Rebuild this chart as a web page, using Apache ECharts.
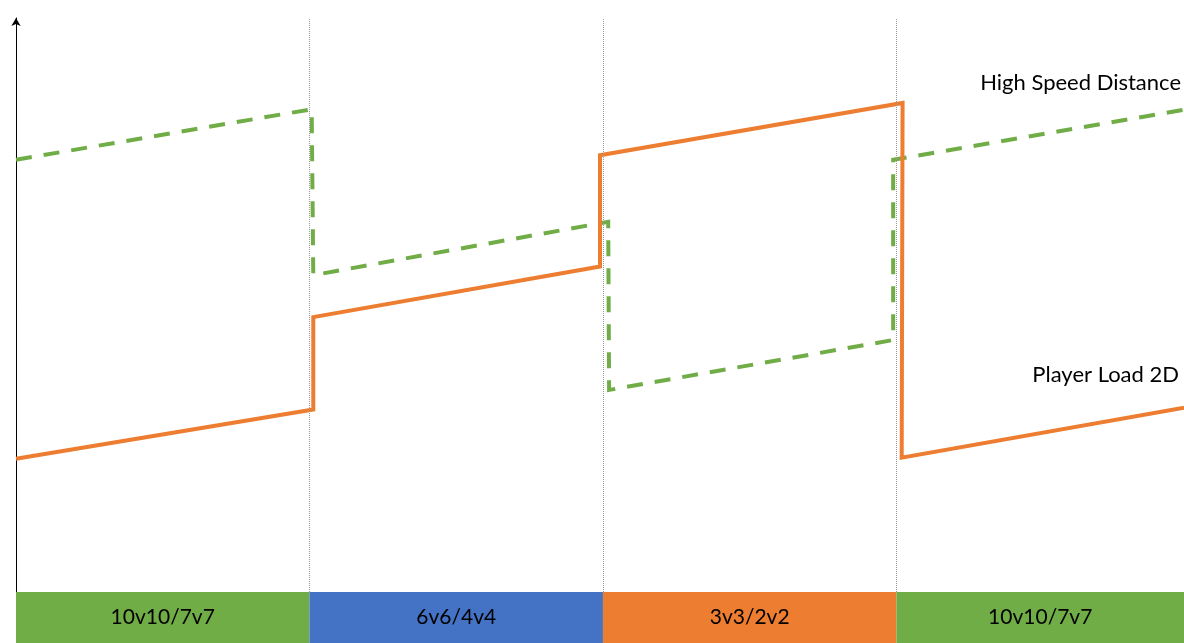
<!DOCTYPE html>
<html>
<head>
<meta charset="utf-8">
<script src="https://cdn.jsdelivr.net/npm/echarts@6/dist/echarts.min.js"></script>
<style>
html,body{margin:0;padding:0;background:#fff;}
#chart{width:1184px;height:643px;}
</style>
</head>
<body>
<div id="chart"></div>
<script>
// Phase categories (bottom band) and their boundaries in phase units
var phases = ['10v10/7v7', '6v6/4v4', '3v3/2v2', '10v10/7v7'];
var phaseStarts = [0, 1, 2, 3];
var phaseColors = ['#70AD47', '#4472C4', '#ED7D31', '#70AD47'];
var xMax = 3.98; // last phase is cut off at the right edge

// High Speed Distance (x in phase units, y relative 0-100)
var hsdX = [0, 1.0075, 1.013, 1.013, 2.018, 2.021, 2.021, 2.989, 2.989, 3.98];
var hsdY = [75.3, 84.1, 84.1, 55.2, 64.5, 64.5, 35.2, 43.9, 75.3, 84.0];

// Player Load 2D
var plX = [0, 1.013, 1.013, 1.99, 1.99, 3.021, 3.018, 3.98];
var plY = [23.2, 31.8, 47.9, 56.7, 76.1, 85.2, 23.4, 32.1];

var seriesNames = ['High Speed Distance', 'Player Load 2D'];

function zip(xs, ys){ return xs.map(function(x,i){ return [x, ys[i]]; }); }

var chart = echarts.init(document.getElementById('chart'), null, {renderer:'canvas'});
var font = 'Lato, "Open Sans", sans-serif';
chart.setOption({
  animation: false,
  grid: [
    {left: 16, right: 0, top: 18, bottom: 51},
    {left: 16, right: 0, top: 592, bottom: 0}
  ],
  xAxis: [
    {type:'value', gridIndex:0, min:0, max:xMax,
     axisLine:{show:false}, axisTick:{show:false}, axisLabel:{show:false}, splitLine:{show:false}},
    {type:'value', gridIndex:1, min:0, max:xMax, show:false}
  ],
  yAxis: [
    {type:'value', gridIndex:0, min:0, max:100,
     axisLine:{show:true, symbol:['none','arrow'], symbolSize:[7,8], lineStyle:{color:'#000', width:1}},
     axisTick:{show:false}, axisLabel:{show:false}, splitLine:{show:false}},
    {type:'value', gridIndex:1, min:0, max:1, show:false}
  ],
  series: [
    {name: seriesNames[0], type:'line', xAxisIndex:0, yAxisIndex:0, data: zip(hsdX, hsdY),
     showSymbol:false, symbol:'none', z:3,
     lineStyle:{color:'#70AD47', width:4, type:[16,12], join:'miter'},
     markLine:{silent:true, symbol:['none','none'], label:{show:false},
       lineStyle:{color:'#999', width:1, type:'dotted'},
       data: phaseStarts.slice(1).map(function(x){ return {xAxis:x}; })}},
    {name: seriesNames[1], type:'line', xAxisIndex:0, yAxisIndex:0, data: zip(plX, plY),
     showSymbol:false, symbol:'none', z:3,
     lineStyle:{color:'#ED7D31', width:4, join:'miter'}},
    {type:'line', xAxisIndex:1, yAxisIndex:1, data:[], silent:true,
     markArea:{silent:true,
       label:{show:true, position:'inside', color:'#000', fontSize:21, fontFamily:font},
       data: phases.map(function(p,i){
         var end = i + 1 < phaseStarts.length ? phaseStarts[i+1] : xMax;
         return [{name:p, xAxis:phaseStarts[i], itemStyle:{color:phaseColors[i], opacity:1}}, {xAxis:end}];
       })}}
  ],
  graphic: [
    {type:'text', right: 3, top: 72, style:{text: seriesNames[0], font:'22px ' + font, fill:'#000'}},
    {type:'text', right: 5, top: 364, style:{text: seriesNames[1], font:'22px ' + font, fill:'#000'}}
  ]
});
</script>
</body>
</html>
